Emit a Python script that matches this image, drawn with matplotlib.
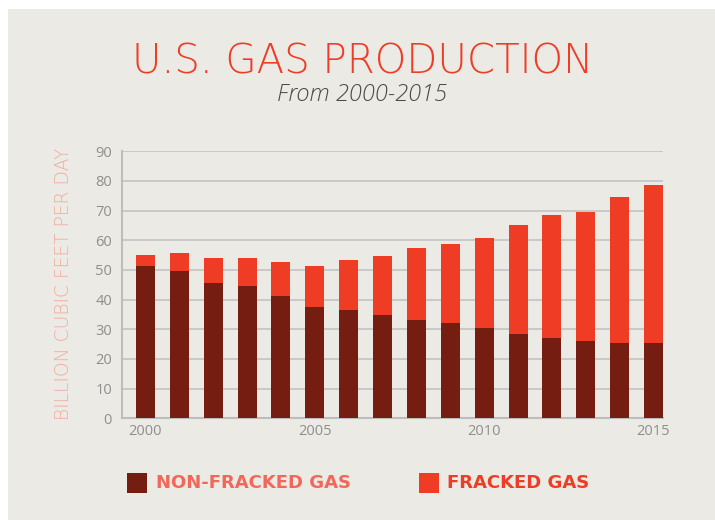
import matplotlib
matplotlib.use("Agg")
import matplotlib.pyplot as plt
from matplotlib.patches import Rectangle

years = list(range(2000, 2016))
non_fracked = [51.3, 49.6, 45.6, 44.6, 41.2, 37.5, 36.5, 34.8, 33.1, 32.1, 30.4, 28.4, 27.1, 26.1, 25.4, 25.4]
total = [55.0, 55.7, 54.0, 54.0, 52.7, 51.3, 53.4, 54.7, 57.4, 58.7, 60.8, 65.2, 68.5, 69.5, 74.6, 78.7]
fracked = [t - n for t, n in zip(total, non_fracked)]
yticks = [0, 10, 20, 30, 40, 50, 60, 70, 80, 90]
xticks = [2000, 2005, 2010, 2015]

DARK = "#761D12"
RED = "#EF3C24"
BG = "#EBEAE5"
W, H = 715, 520

fig = plt.figure(figsize=(W / 100, H / 100), dpi=100, facecolor="white")
fig.patches.append(Rectangle((8 / W, 0), 1 - 8 / W, 1 - 9 / H, transform=fig.transFigure,
                             facecolor=BG, edgecolor="none", zorder=-10))

ax = fig.add_axes([121.7 / W, 101.7 / H, (663 - 121.7) / W, (418.3 - 151.3) / H])
ax.set_facecolor(BG)
ax.bar(years, non_fracked, width=0.56, color=DARK, zorder=3)
ax.bar(years, fracked, width=0.56, bottom=non_fracked, color=RED, zorder=3)
ax.set_xlim(1999.30, 2015.28)
ax.set_ylim(0, 90)
ax.set_yticks(yticks)
ax.set_xticks(xticks)
ax.yaxis.grid(True, color="#C6C6C6", linewidth=1.3, zorder=0)
ax.set_axisbelow(True)
for s in ["top", "right"]:
    ax.spines[s].set_visible(False)
for s in ["left", "bottom"]:
    ax.spines[s].set_color("#BDBDBD")
    ax.spines[s].set_linewidth(1.5)
ax.tick_params(length=0, labelsize=10.5, labelcolor="#8E8E8E")
ax.tick_params(axis="y", pad=7)
ax.tick_params(axis="x", pad=4)
for lab in ax.get_xticklabels() + ax.get_yticklabels():
    lab.set_family("Open Sans")

fig.text(64 / W, (H - 283.5) / H, "BILLION CUBIC FEET PER DAY",
         rotation=90, ha="center", va="center", color="#F3ADA0", fontsize=13.5,
         family="DejaVu Sans", fontweight="light")

fig.text(363 / W, (H - 62.5) / H, "U.S. GAS PRODUCTION", ha="center", va="center",
         color=RED, fontsize=29, family="DejaVu Sans", fontweight="light")
fig.text(362 / W, (H - 95) / H, "From 2000-2015", ha="center", va="center",
         color="#4A4A4A", fontsize=17, family="Open Sans", style="italic", fontweight="light")

# legend
fig.patches.append(Rectangle((127 / W, (H - 493) / H), 20 / W, 20 / H, transform=fig.transFigure,
                             facecolor=DARK, edgecolor="none"))
fig.text(156 / W, (H - 483) / H, "NON-FRACKED GAS", ha="left", va="center",
         color="#F2675A", fontsize=13, family="DejaVu Sans", fontweight="bold")
fig.patches.append(Rectangle((419 / W, (H - 493) / H), 20 / W, 20 / H, transform=fig.transFigure,
                             facecolor=RED, edgecolor="none"))
fig.text(447 / W, (H - 483) / H, "FRACKED GAS", ha="left", va="center",
         color=RED, fontsize=13, family="DejaVu Sans", fontweight="bold")

fig.savefig("out.png", dpi=100, facecolor="white")
